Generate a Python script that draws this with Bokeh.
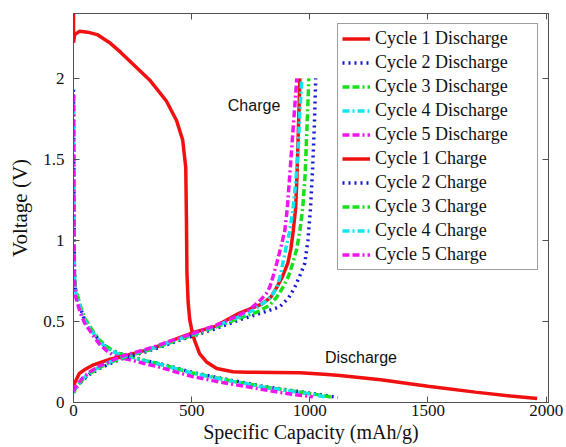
from bokeh.plotting import figure
from bokeh.models import (Range1d, LinearAxis, FixedTicker, NumeralTickFormatter, Label, Legend,
                          CustomJSTickFormatter)
from bokeh.embed import file_html
from bokeh.resources import INLINE

# ---------------- data ----------------
c1_dis_x = [0, 0, 5, 25, 60, 100, 153, 200, 250, 322, 393, 436, 462, 475, 478, 480, 485, 492, 503, 513, 534, 563, 606, 674, 733, 850, 958, 1060, 1127, 1300, 1500, 1700, 1850, 1962]
c1_dis_y = [2.40, 2.22, 2.27, 2.29, 2.285, 2.27, 2.22, 2.16, 2.09, 1.99, 1.86, 1.74, 1.62, 1.45, 1.12, 0.80, 0.62, 0.51, 0.43, 0.38, 0.30, 0.25, 0.21, 0.19, 0.187, 0.185, 0.183, 0.175, 0.167, 0.14, 0.10, 0.064, 0.04, 0.025]

dis_x = [0, 2, 4, 8, 15, 30, 47, 80, 110, 140, 165, 200, 250, 300, 364, 430, 504, 589, 674, 733, 800, 873, 940, 1013]
c2_dis_y = [1.93, 1.20, 0.80, 0.70, 0.66, 0.58, 0.51, 0.44, 0.38, 0.34, 0.32, 0.30, 0.28, 0.26, 0.24, 0.215, 0.185, 0.16, 0.135, 0.12, 0.10, 0.085, 0.07, 0.055]
c3_dis_y = [1.90, 1.20, 0.80, 0.71, 0.67, 0.59, 0.52, 0.445, 0.385, 0.345, 0.322, 0.30, 0.28, 0.26, 0.238, 0.212, 0.182, 0.157, 0.132, 0.117, 0.098, 0.082, 0.068, 0.053]
c4_dis_y = [1.90, 1.18, 0.78, 0.69, 0.65, 0.575, 0.505, 0.435, 0.375, 0.335, 0.315, 0.295, 0.277, 0.257, 0.235, 0.21, 0.18, 0.155, 0.13, 0.115, 0.095, 0.08, 0.065, 0.05]
c5_dis_y = [1.90, 1.15, 0.75, 0.66, 0.62, 0.55, 0.49, 0.42, 0.36, 0.32, 0.295, 0.275, 0.26, 0.24, 0.218, 0.19, 0.16, 0.135, 0.112, 0.098, 0.08, 0.062, 0.048, 0.035]
c2_dis_tail_x = [1060, 1119]
c2_dis_tail_y = [0.045, 0.03]
c3_dis_tail_x = [1050, 1093]
c3_dis_tail_y = [0.045, 0.033]
c4_dis_tail_x = [1040, 1064]
c4_dis_tail_y = [0.042, 0.035]

c1_chg_x = [0, 5, 25, 50, 81, 150, 225, 300, 364, 430, 504, 600, 700, 760, 800, 835, 860, 885, 907, 920, 930, 940, 945, 950, 955, 958]
c1_chg_y = [0.10, 0.12, 0.18, 0.205, 0.23, 0.265, 0.29, 0.32, 0.35, 0.39, 0.43, 0.47, 0.55, 0.585, 0.61, 0.65, 0.71, 0.78, 0.86, 0.95, 1.06, 1.20, 1.37, 1.60, 1.85, 2.00]
c2_chg_x = [0, 10, 38, 70, 110, 170, 225, 300, 364, 430, 504, 600, 703, 790, 873, 910, 936, 960, 979, 992, 1003, 1012, 1019, 1025]
c2_chg_y = [0.06, 0.09, 0.136, 0.175, 0.21, 0.25, 0.28, 0.31, 0.34, 0.375, 0.41, 0.455, 0.51, 0.55, 0.59, 0.645, 0.71, 0.79, 0.86, 1.00, 1.20, 1.45, 1.70, 2.00]
c3_chg_x = [0, 10, 38, 70, 110, 170, 225, 300, 364, 430, 504, 600, 703, 780, 830, 860, 886, 910, 928, 945, 958, 970, 980, 988, 996]
c3_chg_y = [0.06, 0.09, 0.14, 0.18, 0.215, 0.255, 0.285, 0.315, 0.345, 0.38, 0.415, 0.465, 0.52, 0.56, 0.60, 0.65, 0.71, 0.78, 0.86, 0.95, 1.06, 1.20, 1.40, 1.70, 2.00]
c4_chg_x = [0, 10, 38, 70, 110, 170, 225, 300, 364, 430, 504, 600, 703, 760, 810, 840, 860, 875, 886, 900, 915, 928, 940, 950, 958, 966]
c4_chg_y = [0.065, 0.095, 0.145, 0.185, 0.22, 0.26, 0.29, 0.32, 0.35, 0.385, 0.42, 0.47, 0.53, 0.57, 0.62, 0.66, 0.71, 0.78, 0.86, 0.96, 1.06, 1.18, 1.35, 1.55, 1.80, 2.00]
c5_chg_x = [0, 10, 38, 70, 110, 170, 225, 300, 364, 430, 504, 600, 703, 750, 790, 815, 830, 845, 860, 878, 894, 905, 915, 925, 935, 945]
c5_chg_y = [0.07, 0.10, 0.15, 0.19, 0.225, 0.265, 0.295, 0.325, 0.355, 0.39, 0.425, 0.475, 0.54, 0.58, 0.63, 0.67, 0.71, 0.78, 0.86, 0.96, 1.06, 1.20, 1.40, 1.60, 1.80, 2.00]

x_ticks = [0, 500, 1000, 1500, 2000]
y_ticks = [0, 0.5, 1, 1.5, 2]

colors = ["#f01010", "#1818d8", "#18e018", "#10e4ee", "#f014f0"]
dashes = ["solid", "2 4", "7 3 7 3 2 3", "7 3 2 3", "7 3 7 3 2 3"]

SERIF = "Liberation Serif"
SANS = "Liberation Sans"

p = figure(width=566, height=447, output_backend="svg", toolbar_location=None,
           x_range=Range1d(0, 2010), y_range=Range1d(0, 2.40),
           min_border_left=73, min_border_right=18, min_border_top=13, min_border_bottom=45)
p.xgrid.visible = False
p.ygrid.visible = False
p.outline_line_color = "#505050"
p.outline_line_width = 1
p.background_fill_color = "white"
p.border_fill_color = "white"

dis_sets = [
    (c1_dis_x, c1_dis_y),
    (dis_x + c2_dis_tail_x, c2_dis_y + c2_dis_tail_y),
    (dis_x + c3_dis_tail_x, c3_dis_y + c3_dis_tail_y),
    (dis_x + c4_dis_tail_x, c4_dis_y + c4_dis_tail_y),
    (dis_x, c5_dis_y),
]
chg_sets = [
    (c1_chg_x, c1_chg_y),
    (c2_chg_x, c2_chg_y),
    (c3_chg_x, c3_chg_y),
    (c4_chg_x, c4_chg_y),
    (c5_chg_x, c5_chg_y),
]

items = []
rend_dis = []
for i, (xs, ys) in enumerate(dis_sets):
    r = p.line(xs, ys, line_color=colors[i], line_width=3.5, line_dash=dashes[i])
    rend_dis.append(r)
rend_chg = []
for i, (xs, ys) in enumerate(chg_sets):
    r = p.line(xs, ys, line_color=colors[i], line_width=3.5, line_dash=dashes[i])
    rend_chg.append(r)
for i, r in enumerate(rend_dis):
    items.append((f"Cycle {i+1} Discharge", [r]))
for i, r in enumerate(rend_chg):
    items.append((f"Cycle {i+1} Charge", [r]))

legend = Legend(items=items, location="top_right")
legend.label_text_font = SERIF
legend.label_text_font_size = "18px"
legend.label_text_color = "#111111"
legend.border_line_color = "#404040"
legend.border_line_width = 1
legend.background_fill_alpha = 1.0
legend.padding = 4
legend.spacing = 3
legend.margin = 10
legend.glyph_width = 28
legend.glyph_height = 21
legend.label_height = 21
legend.label_width = 158
legend.label_standoff = 5
p.add_layout(legend, "center")

# axes
xa = p.xaxis[0]
ya = p.yaxis[0]
xa.ticker = FixedTicker(ticks=x_ticks)
ya.ticker = FixedTicker(ticks=y_ticks)
ya.formatter = NumeralTickFormatter(format="0.[0]")
for ax in (xa, ya):
    ax.major_tick_in = 6
    ax.major_tick_out = 0
    ax.minor_tick_line_color = None
    ax.axis_line_color = "#505050"
    ax.major_tick_line_color = "#505050"
    ax.major_label_text_font = SERIF
    ax.major_label_text_font_size = "17px"
    ax.major_label_text_color = "#111111"
xa.major_label_standoff = 2
xa.axis_label = "Specific Capacity (mAh/g)"
xa.axis_label_text_font = SERIF
xa.axis_label_text_font_size = "20px"
xa.axis_label_text_font_style = "normal"
xa.axis_label_text_color = "#111111"
xa.axis_label_standoff = 2
ya.major_label_standoff = 9
ya.axis_label = "Voltage (V)"
ya.axis_label_text_font = SERIF
ya.axis_label_text_font_size = "21px"
ya.axis_label_text_font_style = "normal"
ya.axis_label_text_color = "#111111"
ya.axis_label_standoff = 8

blank = CustomJSTickFormatter(code="return '';")
top = LinearAxis(ticker=FixedTicker(ticks=x_ticks), formatter=blank,
                 major_tick_in=6, major_tick_out=0, minor_tick_line_color=None,
                 axis_line_color="#505050", major_tick_line_color="#505050", major_label_standoff=0)
right = LinearAxis(ticker=FixedTicker(ticks=y_ticks), formatter=blank,
                   major_tick_in=6, major_tick_out=0, minor_tick_line_color=None,
                   axis_line_color="#505050", major_tick_line_color="#505050", major_label_standoff=0)
p.add_layout(top, "above")
p.add_layout(right, "right")

# annotations
p.add_layout(Label(x=653, y=1.83, text="Charge", text_baseline="middle",
                   text_font=SANS, text_font_size="16px", text_color="#111111"))
p.add_layout(Label(x=1064, y=0.28, text="Discharge", text_baseline="middle",
                   text_font=SANS, text_font_size="16px", text_color="#111111"))

open("out.html", "w").write(file_html(p, INLINE))
